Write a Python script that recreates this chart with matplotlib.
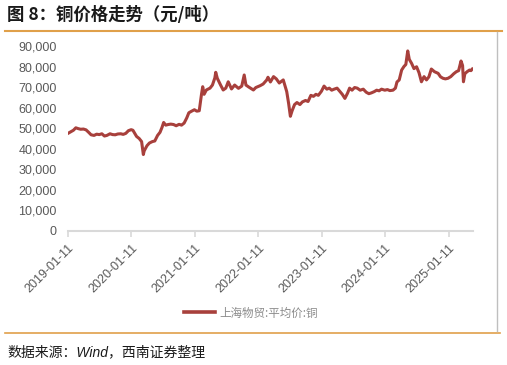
import matplotlib
matplotlib.use("Agg")
import matplotlib.pyplot as plt
from matplotlib.lines import Line2D
import pandas as pd

plt.rcParams['font.family'] = ['Liberation Sans', 'Noto Sans CJK SC', 'DejaVu Sans']

dates = [
    "2019-01-11", "2019-01-25", "2019-02-11", "2019-02-25", "2019-03-11", "2019-03-25",
    "2019-04-10", "2019-04-25", "2019-05-10", "2019-05-24", "2019-06-10", "2019-06-25",
    "2019-07-10", "2019-07-25", "2019-08-09", "2019-08-23", "2019-09-10", "2019-09-25",
    "2019-10-10", "2019-10-25", "2019-11-11", "2019-11-25", "2019-12-10", "2019-12-25",
    "2020-01-10", "2020-01-20", "2020-02-10", "2020-02-25", "2020-03-10", "2020-03-20",
    "2020-03-25", "2020-04-10", "2020-04-24", "2020-05-11", "2020-05-25", "2020-06-10",
    "2020-06-24", "2020-07-06", "2020-07-15", "2020-07-27", "2020-08-10", "2020-08-25",
    "2020-09-10", "2020-09-25", "2020-10-12", "2020-10-26", "2020-11-10", "2020-11-25",
    "2020-12-07", "2020-12-21",
    "2021-01-08", "2021-01-22", "2021-02-05", "2021-02-18", "2021-02-25", "2021-03-05",
    "2021-03-18", "2021-04-08", "2021-04-22", "2021-05-06", "2021-05-11", "2021-05-20",
    "2021-06-08", "2021-06-23", "2021-07-08", "2021-07-22", "2021-08-10", "2021-08-28",
    "2021-09-19", "2021-10-08", "2021-10-22", "2021-11-01", "2021-11-18", "2021-12-14",
    "2021-12-28",
    "2022-01-22", "2022-02-08", "2022-03-01", "2022-03-08", "2022-03-22", "2022-04-09",
    "2022-04-25", "2022-05-12", "2022-06-04", "2022-06-24", "2022-07-05", "2022-07-15",
    "2022-07-25", "2022-08-08", "2022-08-22", "2022-09-08", "2022-09-22", "2022-10-10",
    "2022-10-25", "2022-11-10", "2022-11-25", "2022-12-09", "2022-12-23",
    "2023-01-10", "2023-01-25", "2023-02-10", "2023-02-24", "2023-03-10", "2023-03-24",
    "2023-04-10", "2023-04-25", "2023-05-10", "2023-05-25", "2023-06-09", "2023-06-21",
    "2023-07-05", "2023-07-20", "2023-08-04", "2023-08-21", "2023-09-08", "2023-09-25",
    "2023-10-10", "2023-10-25", "2023-11-10", "2023-11-24", "2023-12-08", "2023-12-22",
    "2024-01-10", "2024-01-25", "2024-02-08", "2024-02-26", "2024-03-11", "2024-03-20",
    "2024-04-02", "2024-04-16", "2024-04-29", "2024-05-10", "2024-05-21", "2024-05-30",
    "2024-06-12", "2024-06-26", "2024-07-11", "2024-07-25", "2024-08-08", "2024-08-23",
    "2024-09-06", "2024-09-20", "2024-10-04", "2024-10-22", "2024-11-12", "2024-11-26",
    "2024-12-10", "2024-12-24",
    "2025-01-08", "2025-01-24", "2025-02-10", "2025-02-25", "2025-03-10", "2025-03-24",
    "2025-04-02", "2025-04-07", "2025-04-15", "2025-04-28", "2025-05-12", "2025-05-20",
    "2025-05-28",
]

copper_price = [
    47500, 48200, 49000, 50200, 49800, 49500,
    49600, 49200, 48000, 46800, 46500, 47100,
    46900, 47300, 46200, 46500, 47300, 46900,
    46800, 47200, 47300, 47000, 47500, 48800,
    49300, 49000, 46000, 45000, 43500, 37200,
    39000, 41500, 42800, 43500, 43800, 46500,
    48000, 50500, 52800, 51500, 51800, 52000,
    51800, 51200, 51900, 51500, 52500, 55000,
    57500, 58200,
    59000, 58300, 58500, 66500, 70200, 66500,
    68600, 69500, 71000, 74500, 77200, 74300,
    71000, 68600, 69500, 72600, 69100, 71000,
    69400, 70500, 75900, 71000, 70000, 68600,
    69800,
    70700, 71500, 73500, 74800, 72500, 75100,
    74000, 72000, 73500, 67800, 62000, 55800,
    58500, 61500, 62500, 61500, 62800, 63500,
    63000, 66000, 65500, 66500, 66000,
    68000, 70500, 69000, 69500, 68500, 69000,
    69500, 68000, 66500, 64500, 67000, 69500,
    68500, 69800, 69500, 68500, 69000, 67500,
    66800, 67200, 67800, 68500, 68200, 69000,
    68500, 68800, 68300, 68500, 69500, 72500,
    73500, 78300, 80000, 81000, 87600, 83500,
    81600, 79000, 79900, 77000, 72600, 75100,
    73500, 75000, 78800, 77500, 76700, 75000,
    74300, 74000,
    74300, 75100, 76500, 77500, 78000, 82700,
    80500, 72600, 76500, 77500, 78300, 78000,
    78800,
]

tick_labels = ["2019-01-11", "2020-01-11", "2021-01-11", "2022-01-11",
               "2023-01-11", "2024-01-11", "2025-01-11"]
y_ticks = [0, 10000, 20000, 30000, 40000, 50000, 60000, 70000, 80000, 90000]

series_name = "上海物贸:平均价:铜"
title = "图 8：铜价格走势（元/吨）"
source = "数据来源：Wind，西南证券整理"

W, H = 507, 365
fig = plt.figure(figsize=(W / 100, H / 100), dpi=100)
fig.patch.set_facecolor("white")

ax = fig.add_axes([68 / W, 1 - 231 / H, (473 - 68) / W, (231 - 46) / H])
x = pd.to_datetime(dates)
line_color = "#a8403c"
ax.plot(x, copper_price, color=line_color, lw=2.2, solid_joinstyle="round")

ax.set_ylim(0, 90000)
ax.set_xlim(pd.Timestamp("2019-01-11"), pd.Timestamp("2025-06-01"))
ax.set_yticks(y_ticks)
ax.set_yticklabels([f"{v:,}" for v in y_ticks])
ax.set_xticks(pd.to_datetime(tick_labels))
ax.set_xticklabels(tick_labels, rotation=45, ha="right", va="top",
                   rotation_mode="anchor")

for s in ["top", "right", "left"]:
    ax.spines[s].set_visible(False)
ax.spines["bottom"].set_color("#d9d9d9")
ax.spines["bottom"].set_linewidth(1.5)
ax.tick_params(axis="y", length=0, pad=8, labelsize=9, labelcolor="#595959")
ax.tick_params(axis="x", length=4, width=1.2, color="#d9d9d9", pad=4,
               labelsize=9, labelcolor="#595959")

# legend
handle = Line2D([], [], color=line_color, lw=2.6)
fig.legend([handle], [series_name], loc="center", bbox_to_anchor=(251 / W, 1 - 313 / H),
           frameon=False, handlelength=2.7, handletextpad=0.4,
           prop={"family": ["Noto Sans CJK SC"], "size": 8.3}, labelcolor="#8c8c8c")

# title and decorations
fig.text(7 / W, 1 - 15 / H, title, fontsize=12.5, fontweight="bold",
         family=["Noto Sans CJK SC", "DejaVu Sans"], va="center", ha="left", color="#1a1a1a")
fig.add_artist(Line2D([5 / W, 502 / W], [1 - 30.5 / H, 1 - 30.5 / H],
                      color="#e0a04a", lw=1.5))
fig.add_artist(Line2D([5 / W, 500 / W], [1 - 332.5 / H, 1 - 332.5 / H],
                      color="#e0a04a", lw=1.2))
fig.add_artist(Line2D([496.5 / W, 496.5 / W], [1 - 32 / H, 1 - 331 / H],
                      color="#bfbfbf", lw=1.0))
fig.text(7 / W, 1 - 352 / H, source, fontsize=10, style="italic",
         family=["Liberation Sans", "Noto Sans CJK SC", "DejaVu Sans"],
         va="center", ha="left", color="#1a1a1a")

fig.savefig("out.png", dpi=100, facecolor="white")
